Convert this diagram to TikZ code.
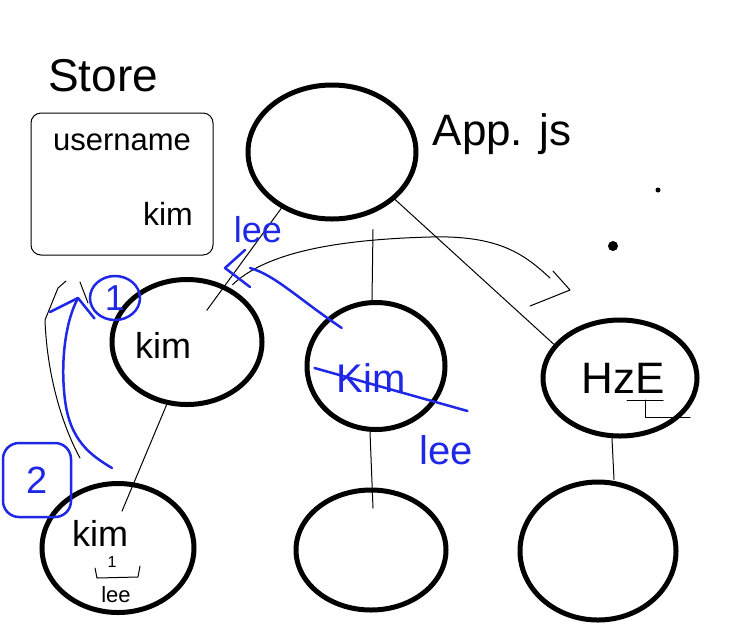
\documentclass[tikz,border=0pt]{standalone}
\usepackage{fontspec}
\setmainfont{Liberation Sans}
\usetikzlibrary{shapes.geometric,calc}
\definecolor{penblue}{HTML}{1E28E6}

\begin{document}
\begin{tikzpicture}[x=1pt,y=-1pt,
    comp/.style={draw, ellipse, line width=5pt, inner sep=0pt},
    wire/.style={line width=1pt, line cap=round, line join=round},
    pen/.style={draw=penblue, line width=2.5pt, line cap=round, line join=round},
    hand/.style={font=\fontsize{#1}{#1}\selectfont, inner sep=0pt},
    bluehand/.style={hand=#1, text=penblue},
]
\useasboundingbox (0,0) rectangle (752,641);

% Store
\node[hand=46] (storelbl) at (103,76) {Store};
\node[draw, line width=1pt, rounded corners=10pt, minimum width=182, minimum height=142] (store) at (122,184) {};
\node[hand=31] (uname) at (122,142) {username};
\node[hand=32] (skim) at (168,214) {kim};

% ---- component tree ----
\node[comp, minimum width=168, minimum height=134] (app)   at (332,152) {};
\node[hand=44] (applbl) at (502,134) {App. js};
\node[comp, minimum width=150, minimum height=125] (left)  at (187,342) {};
\node[comp, minimum width=138, minimum height=127] (mid)   at (376,366) {};
\node[comp, minimum width=154, minimum height=116] (right) at (620,378) {};
\node[comp, minimum width=152, minimum height=129] (bl)    at (118,548) {};
\node[comp, minimum width=150, minimum height=120] (bm)    at (371,550) {};
\node[comp, minimum width=156, minimum height=138] (br)    at (598,551) {};

\draw[wire] (app.228) -- ($(left.center)!0.55!(left.58)$);
\draw[wire] ($(app.south -| mid.north)+(-3,8)$) -- ($(mid.north)+(-4,0)$);
\draw[wire] (app.-37) -- (right.153);
\draw[wire] (left.-108) -- ($(bl.center)!0.55!(bl.north)+(4,0)$);
\draw[wire] ($(mid.south)+(-6,0)$) -- ($(bm.center)!0.67!(bm.north)+(2,0)$);
\draw[wire] ($(right.south)+(-8,0)$) -- ($(br.north)+(16,0)$);

% texts in the nodes
\node[hand=36] (kimleft) at (163,345) {kim};
\node[hand=36] (kimbl) at (100,533) {kim};
\node[hand=16] (onebl) at (112,562) {1};
\draw[wire] (95,568) -- (97,578) -- (138,577) -- (140,566);
\node[hand=22] (leebl) at (116,595) {lee};
\node[hand=44] (hze) at (623,378) {HzE};
\draw[wire] (627,400) -- (663,400);
\draw[wire] (645,400) -- (645,417) -- (690,417);

% dots
\fill (658,190) circle (2.5);
\fill (613,246) circle (5);

% swoop arrow to the right
\coordinate (swoop) at (570,290);
\draw[wire] ($(left.62)+(14,2)$) .. controls (262,257) and (320,240) .. (430,237)
    .. controls (500,235) and (525,255) .. (550,278);
\draw[wire] ($(swoop)+(-17,-19)$) -- (swoop) -- ($(swoop)+(-40,16)$);

% thin up arrow on the left
\coordinate (uptip2) at (66,281);
\draw[wire] (80,458) .. controls (62,425) and (47,375) .. (45,320) -- (58,288) -- (uptip2);
\draw[wire] (80,282) -- (88,303);

% ---- blue pen ----
\node[draw=penblue, line width=2.5pt, ellipse, minimum width=50, minimum height=44, bluehand=36] (one) at (115,298) {1};
\node[draw=penblue, line width=2.5pt, rounded corners=16pt, minimum width=68, minimum height=74, bluehand=38] (two) at (37,480) {2};

\coordinate (uptip) at (78,298);
\draw[pen] (112,468) .. controls (90,455) and (70,440) .. (65,400)
    .. controls (60,360) and (66,320) .. (uptip);
\draw[pen] (50,312) -- (uptip) -- ($(one.south west)+(-2,4)$);

\node[bluehand=36] (leeup) at (258,230) {lee};
\coordinate (lefttip) at (225,268);
\draw[pen] ($(mid.center)!0.75!(mid.132)$) .. controls (300,300) and (275,275) .. ($(lefttip)+(25,0)$);
\draw[pen] ($(lefttip)+(20,-18)$) -- (lefttip) -- ($(lefttip)+(25,19)$);

\node[bluehand=40] (kimmid) at (371,378) {Kim};
\draw[pen] ($(mid.west)+(10,2)$) -- ($(mid.east)+(20,45)$);
\node[bluehand=40] (leemid) at (446,450) {lee};
\end{tikzpicture}
\end{document}
